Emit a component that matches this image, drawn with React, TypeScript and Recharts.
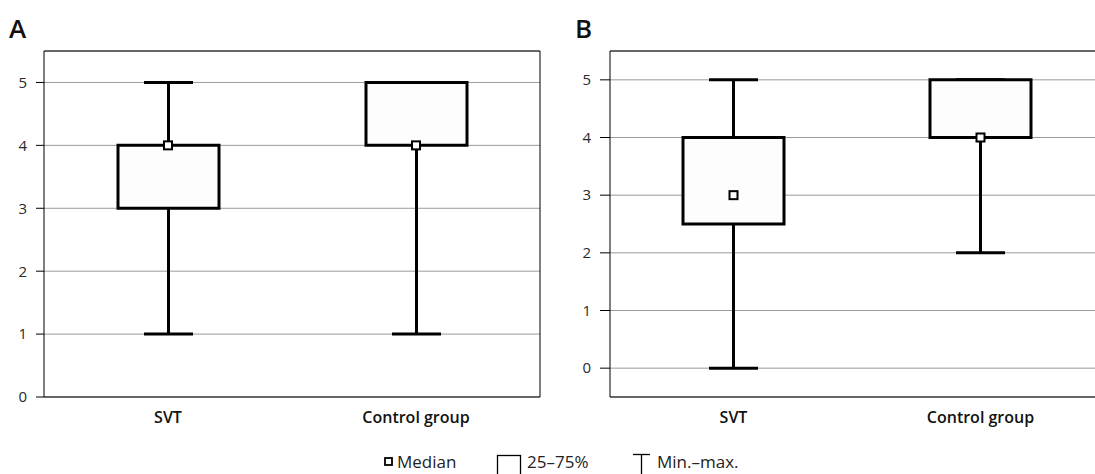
import React from 'react';
import { ComposedChart, Bar, Line, XAxis, YAxis, CartesianGrid } from 'recharts';

const categories = ['SVT', 'Control group'];

// panel A
const minA = [1, 1];
const q1A = [3, 4];
const medianA = [4, 4];
const q3A = [4, 5];
const maxA = [5, 5];

// panel B
const minB = [0, 2];
const q1B = [2.5, 4];
const medianB = [3, 4];
const q3B = [4, 5];
const maxB = [5, 5];

const yTicks = [0, 1, 2, 3, 4, 5];

const FONT = '"Open Sans", "Noto Sans", sans-serif';

function buildRows(min: number[], q1: number[], med: number[], q3: number[], max: number[]) {
  return categories.map((name, i) => ({
    name,
    whisker: [min[i], max[i]],
    box: [q1[i], q3[i]],
    median: med[i],
  }));
}

function WhiskerShape(props: any) {
  const { x, y, width, height } = props;
  const top = Math.min(y, y + height);
  const bottom = Math.max(y, y + height);
  const cx = x + width / 2;
  return (
    <g stroke="#000" strokeWidth={3}>
      <line x1={cx} x2={cx} y1={top} y2={bottom} />
      <line x1={x} x2={x + width} y1={top} y2={top} />
      <line x1={x} x2={x + width} y1={bottom} y2={bottom} />
    </g>
  );
}

function MedianDot(props: any) {
  const { cx, cy, index } = props;
  if (cx == null || cy == null) return <g key={`m-${index}`} />;
  return (
    <rect
      key={`m-${index}`}
      x={cx - 4}
      y={cy - 4}
      width={8}
      height={8}
      fill="#fff"
      stroke="#000"
      strokeWidth={2}
    />
  );
}

interface PanelProps {
  rows: ReturnType<typeof buildRows>;
  domain: [number, number];
  width: number;
  axisWidth: number;
  tickSize: number;
}

function Panel({ rows, domain, width, axisWidth, tickSize }: PanelProps) {
  return (
    <ComposedChart
      width={width}
      height={440}
      data={rows}
      margin={{ top: 50, right: 19, bottom: 0, left: 0 }}
      style={{ fontFamily: FONT }}
    >
      <CartesianGrid xAxisId="a" vertical={false} stroke="#9a9a9a" />
      <XAxis
        xAxisId="a"
        dataKey="name"
        height={43}
        tickLine={false}
        axisLine={{ stroke: '#000' }}
        tickMargin={9}
        tick={{ fontSize: 16, fontWeight: 600, fill: '#111' }}
      />
      <XAxis xAxisId="b" dataKey="name" hide />
      <XAxis
        xAxisId="top"
        dataKey="name"
        orientation="top"
        height={1}
        tick={false}
        tickLine={false}
        axisLine={{ stroke: '#000' }}
      />
      <YAxis
        domain={domain}
        ticks={yTicks}
        width={axisWidth}
        tickSize={tickSize}
        tickMargin={9}
        allowDataOverflow
        axisLine={{ stroke: '#000' }}
        tickLine={{ stroke: '#000' }}
        tick={{ fontSize: 15, fill: '#2a2a2a' }}
      />
      <YAxis
        yAxisId="right"
        orientation="right"
        domain={domain}
        width={1}
        tick={false}
        tickLine={false}
        axisLine={{ stroke: '#000' }}
      />
      <Bar xAxisId="a" dataKey="whisker" barSize={49} shape={WhiskerShape} isAnimationActive={false} />
      <Bar
        xAxisId="b"
        dataKey="box"
        barSize={101}
        fill="#fdfdfd"
        stroke="#000"
        strokeWidth={3}
        isAnimationActive={false}
      />
      <Line
        xAxisId="a"
        dataKey="median"
        stroke="none"
        dot={MedianDot}
        activeDot={false}
        isAnimationActive={false}
      />
    </ComposedChart>
  );
}

const panelLabel: React.CSSProperties = {
  position: 'absolute',
  top: 15,
  fontSize: 26,
  lineHeight: '26px',
  fontWeight: 600,
  color: '#111',
};

const legendText: React.CSSProperties = {
  position: 'absolute',
  top: 453,
  fontSize: 17,
  lineHeight: '17px',
  color: '#222',
  whiteSpace: 'nowrap',
};

export default function App() {
  const rowsA = buildRows(minA, q1A, medianA, q3A, maxA);
  const rowsB = buildRows(minB, q1B, medianB, q3B, maxB);

  return (
    <div
      style={{
        position: 'absolute',
        left: 0,
        top: 0,
        width: 1095,
        height: 474,
        overflow: 'hidden',
        background: '#fff',
        fontFamily: FONT,
      }}
    >
      <div style={{ position: 'absolute', left: 0, top: 0 }}>
        <Panel rows={rowsA} domain={[0, 5.5]} width={560} axisWidth={44} tickSize={8} />
      </div>
      <div style={{ position: 'absolute', left: 560, top: 0 }}>
        <Panel rows={rowsB} domain={[-0.5, 5.5]} width={564} axisWidth={50} tickSize={10} />
      </div>
      <div style={{ ...panelLabel, left: 9 }}>A</div>
      <div style={{ ...panelLabel, left: 575 }}>B</div>

      <svg
        width={1095}
        height={474}
        style={{ position: 'absolute', left: 0, top: 0, pointerEvents: 'none' }}
      >
        <rect x={385} y={458} width={7} height={7} fill="#fff" stroke="#000" strokeWidth={1.8} />
        <rect x={497.5} y={455.5} width={23} height={22} fill="#fff" stroke="#000" strokeWidth={1.3} />
        <line x1={633} x2={650} y1={454.5} y2={454.5} stroke="#000" strokeWidth={1.3} />
        <line x1={641.5} x2={641.5} y1={454} y2={474} stroke="#000" strokeWidth={1.3} />
      </svg>
      <div style={{ ...legendText, left: 397 }}>Median</div>
      <div style={{ ...legendText, left: 527 }}>25–75%</div>
      <div style={{ ...legendText, left: 657 }}>Min.–max.</div>
    </div>
  );
}
